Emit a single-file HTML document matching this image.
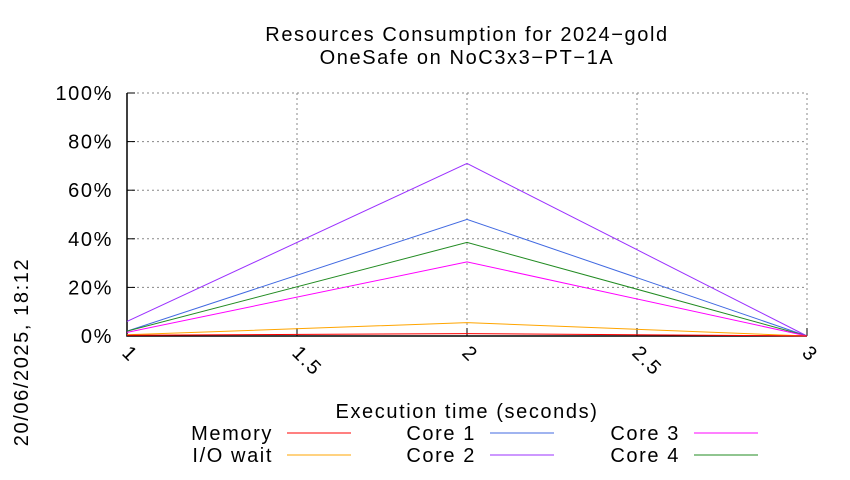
<!DOCTYPE html>
<html><head><meta charset="utf-8"><style>body{margin:0;background:#fff}svg{font-family:"Liberation Sans",sans-serif}text{letter-spacing:1.6px}</style></head><body>
<svg id="c" width="850" height="475" xmlns="http://www.w3.org/2000/svg">
<text x="467" y="41" font-size="20" text-anchor="middle">Resources Consumption for 2024−gold</text>
<text x="467" y="64" font-size="20" text-anchor="middle">OneSafe on NoC3x3−PT−1A</text>
<text transform="translate(28,352) rotate(-90)" font-size="20" text-anchor="middle">20/06/2025, 18:12</text>
<text x="467" y="418" font-size="20" text-anchor="middle">Execution time (seconds)</text>
<g id="grid"></g><g id="series"></g><g id="legend"></g>
</svg>
<script>
const xs=[1,2,3];
const yTicks=[0,20,40,60,80,100];
const xTicks=[1,1.5,2,2.5,3];
const xTickLabels=["1","1.5","2","2.5","3"];
const names=["Memory","I/O wait","Core 1","Core 2","Core 3","Core 4"];
const colors=["#ff0000","#ffa500","#4169e1","#9b30ff","#ff00ff","#228b22"];
const memory=[0.3,1,0];
const iowait=[0.5,5.5,0];
const core1=[2,48,0];
const core2=[6,71,0];
const core3=[1.5,30.5,0];
const core4=[2,38.5,0];
const series=[memory,iowait,core1,core2,core3,core4];
const L=127,R=807,T=93,B=336;
const X=v=>L+(v-1)/2*(R-L), Y=v=>B-v/100*(B-T);
const NS="http://www.w3.org/2000/svg";
function mk(p,t,a){const e=document.createElementNS(NS,t);for(const k in a)e.setAttribute(k,a[k]);p.appendChild(e);return e;}
const g=document.getElementById('grid');
yTicks.forEach(v=>{
 if(v>0){const l=mk(g,'line',{x1:L,x2:R,y1:Y(v),y2:Y(v),stroke:'#888','stroke-dasharray':'2,3','stroke-width':1});
 }
 const tk=mk(g,'line',{x1:L,x2:L+8,y1:Y(v),y2:Y(v),stroke:'#000'});
 
 const t=mk(g,'text',{x:L-14,y:Y(v)+7,'font-size':20,'text-anchor':'end'});t.textContent=v+'%';
 
});
xTicks.forEach((v,i)=>{
 if(i>0){const l=mk(g,'line',{x1:X(v),x2:X(v),y1:T,y2:B,stroke:'#888','stroke-dasharray':'2,3','stroke-width':1});
 }
 const tk=mk(g,'line',{x1:X(v),x2:X(v),y1:B,y2:B-8,stroke:'#000'});
 
 const t=mk(g,'text',{transform:`translate(${X(v)-6},${B+18}) rotate(45)`,'font-size':20});t.textContent=xTickLabels[i];
 
});
const ax=mk(g,'path',{d:`M${L},${T}V${B}H${R}`,fill:'none',stroke:'#000','stroke-width':1.5});

const s=document.getElementById('series');
[3,2,5,4,1,0].forEach(i=>{
 const p=mk(s,'polyline',{points:xs.map((x,j)=>X(x)+','+Y(series[i][j])).join(' '),fill:'none',stroke:colors[i],'stroke-width':1});
 
});
const lg=document.getElementById('legend');
const colX=[271,474,678],rowY=[433,455];
names.forEach((n,i)=>{
 const c=Math.floor(i/2),r=i%2;
 const t=mk(lg,'text',{x:colX[c]+2,y:rowY[r]+7,'font-size':20,'text-anchor':'end'});t.textContent=n;
 
 const l=mk(lg,'line',{x1:colX[c]+16,x2:colX[c]+80,y1:rowY[r],y2:rowY[r],stroke:colors[i]});
 
});
</script>
</body></html>
